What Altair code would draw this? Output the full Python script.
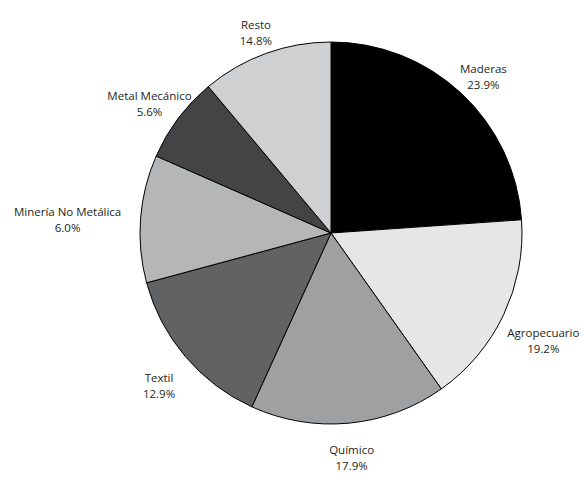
import altair as alt
import pandas as pd

# Sector names, as printed on the chart
categories = ["Maderas", "Agropecuario", "Químico", "Textil",
              "Minería No Metálica", "Metal Mecánico", "Resto"]
# Slice sizes as drawn (share of the full circle, %)
slice_share = [23.9, 16.3, 16.6, 14.0, 10.8, 7.3, 11.1]
# Percentages printed in the labels
label_pct = ["23.9%", "19.2%", "17.9%", "12.9%", "6.0%", "5.6%", "14.8%"]
# Slice fills
fill_colors = ["#000000", "#e6e6e6", "#9fa0a2", "#616264",
               "#b5b6b8", "#444446", "#cfd0d2"]

df = pd.DataFrame({
    "sector": categories,
    "share": slice_share,
    "pct": label_pct,
    "idx": list(range(len(categories))),
})

R = 191          # pie radius (px)
GAP = 16         # gap between pie edge and label box
HALF_H = 12      # half height of a two-line label
CHAR_W = 3.0     # half width per character

pie = alt.Chart(df).mark_arc(radius=R, stroke="#000000", strokeWidth=1).encode(
    theta=alt.Theta("share:Q", stack=True),
    order=alt.Order("idx:Q"),
    color=alt.Color("sector:N",
                    scale=alt.Scale(domain=categories, range=fill_colors),
                    legend=None)
)

labels = alt.Chart(df).transform_joinaggregate(
    total="sum(share)"
).transform_window(
    cum="sum(share)", sort=[alt.SortField("idx")], frame=[None, 0]
).transform_calculate(
    mid="datum.cum - datum.share/2",
    ang="2*PI*(datum.cum - datum.share/2)/datum.total",
    halfw=f"{CHAR_W}*max(length(datum.sector), length(datum.pct))",
).transform_calculate(
    lab_r=(f"{R} + {GAP} + min(datum.halfw/max(abs(sin(datum.ang)),0.01), "
           f"{HALF_H}/max(abs(cos(datum.ang)),0.01))"),
    label="datum.sector + '\\n' + datum.pct",
).mark_text(
    font="Open Sans", fontSize=11.5, lineBreak="\n", lineHeight=16,
    color="#231f20", align="center", baseline="middle"
).encode(
    theta=alt.Theta("mid:Q", stack=None),
    radius=alt.Radius("lab_r:Q", scale=None),
    text="label:N",
)

chart = alt.layer(pie, labels).properties(
    width=400, height=400,
    autosize="none",
    padding={"left": 123, "top": 25, "right": 48, "bottom": 37},
).configure_view(stroke=None)

chart.save("out.html", embed_options={"renderer": "svg", "actions": False})
